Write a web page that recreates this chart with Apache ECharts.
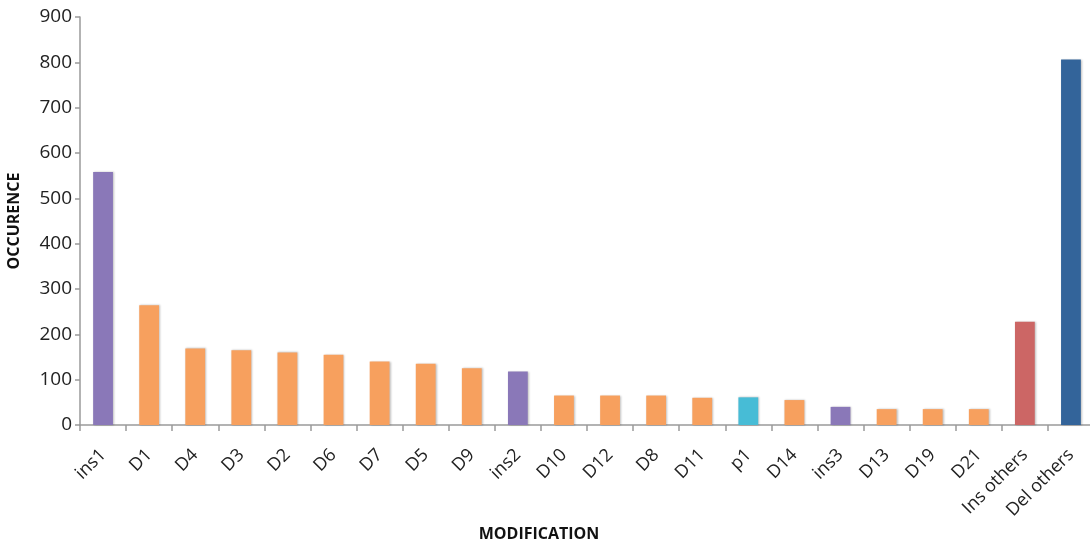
<!DOCTYPE html>
<html>
<head>
<meta charset="utf-8">
<script src="https://cdn.jsdelivr.net/npm/echarts@6/dist/echarts.min.js"></script>
<style>html,body{margin:0;padding:0;background:#fff}#c{width:1090px;height:543px}</style>
</head>
<body>
<div id="c"></div>
<script>
const categories = ['ins1','D1','D4','D3','D2','D6','D7','D5','D9','ins2','D10','D12','D8','D11','p1','D14','ins3','D13','D19','D21','Ins others','Del others'];
const values = [558,264,169,165,160,155,140,135,125,118,65,65,65,60,61,55,40,35,35,35,228,806];
const types = ['ins','del','del','del','del','del','del','del','del','ins','del','del','del','del','p','del','ins','del','del','del','insO','delO'];
const yTicks = [0,100,200,300,400,500,600,700,800,900];
const typeColors = {ins:'#8A78B8', del:'#F7A05E', p:'#47BCD6', insO:'#CC6665', delO:'#33649A'};

const chart = echarts.init(document.getElementById('c'));
chart.setOption({
  animation:false,
  grid:{left:80,right:-4,top:17,bottom:118,containLabel:false,outerBoundsMode:'none'},
  xAxis:{
    type:'category',
    data:categories,
    name:'MODIFICATION',
    nameLocation:'middle',
    nameGap:95,
    nameTextStyle:{fontFamily:'Open Sans',fontWeight:'bold',fontSize:16,color:'#111',padding:[0,96,0,0]},
    axisLine:{lineStyle:{color:'#9a9a9a',width:1.5}},
    axisTick:{show:true,length:6,lineStyle:{color:'#9a9a9a',width:1.5}},
    axisLabel:{rotate:45,interval:0,fontFamily:'Open Sans',fontSize:18,color:'#222',margin:27}
  },
  yAxis:{
    type:'value',
    min:yTicks[0],max:yTicks[yTicks.length-1],interval:100,
    name:'OCCURENCE',
    nameLocation:'middle',
    nameGap:58,
    nameTextStyle:{fontFamily:'Open Sans',fontWeight:'bold',fontSize:16,color:'#111'},
    axisLine:{show:true,lineStyle:{color:'#9a9a9a',width:1.5}},
    axisTick:{show:true,length:5,lineStyle:{color:'#9a9a9a',width:1.5}},
    splitLine:{show:false},
    axisLabel:{fontFamily:'Open Sans',fontSize:19,color:'#222',margin:8}
  },
  series:[{
    type:'bar',
    barWidth:'43%',
    data:values.map((v,i)=>({value:v,itemStyle:{color:typeColors[types[i]]}})),
    itemStyle:{shadowColor:'rgba(0,0,0,0.25)',shadowBlur:2,shadowOffsetX:1,shadowOffsetY:0}
  }]
});
</script>
</body>
</html>
